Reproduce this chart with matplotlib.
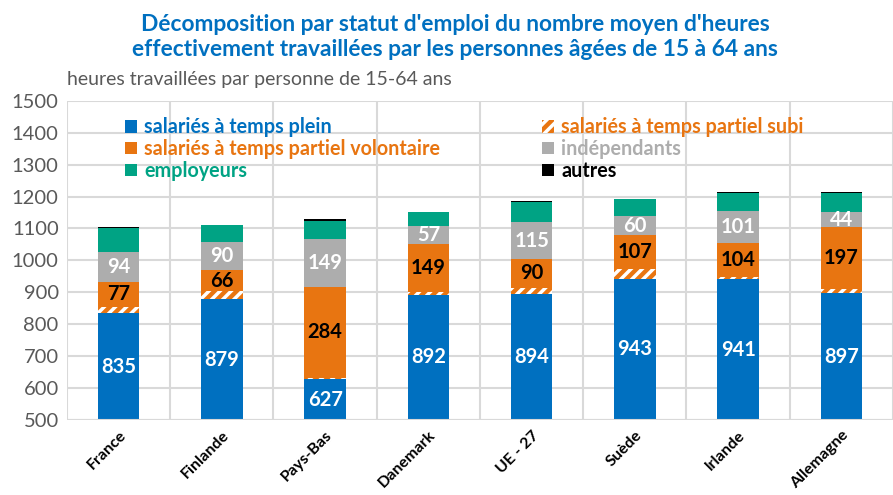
import matplotlib
matplotlib.use("Agg")
import matplotlib.pyplot as plt
import numpy as np

plt.rcParams['font.family'] = ['Lato', 'DejaVu Sans']
plt.rcParams['hatch.linewidth'] = 2.5

categories = ["France", "Finlande", "Pays-Bas", "Danemark", "UE - 27", "Suède", "Irlande", "Allemagne"]
plein = [835, 879, 627, 892, 894, 943, 941, 897]
subi = [20, 24, 6, 10, 20, 29, 8, 12]
volontaire = [77, 66, 284, 149, 90, 107, 104, 197]
independants = [94, 90, 149, 57, 115, 60, 101, 44]
employeurs = [76, 52, 58, 42, 65, 52, 58, 62]
autres = [3, 1, 7, 1, 3, 1, 2, 1]

c_blue = "#0070C0"
c_orange = "#E87511"
c_gray = "#ADADAD"
c_green = "#00A384"
c_black = "#000000"

fig = plt.figure(figsize=(8.93, 4.95), dpi=100)
ax = fig.add_axes([0.075, 0.1515, 0.925, 0.645])

x = np.arange(len(categories))
w = 0.4
bottom = np.zeros(len(categories))

b1 = ax.bar(x, plein, w, bottom=bottom, color=c_blue, label="salariés à temps plein", zorder=3)
bottom += plein
b2 = ax.bar(x, subi, w, bottom=bottom, facecolor=c_orange, edgecolor="white", hatch="///",
            linewidth=0, label="salariés à temps partiel subi", zorder=3)
bottom += subi
b3 = ax.bar(x, volontaire, w, bottom=bottom, color=c_orange, label="salariés à temps partiel volontaire", zorder=3)
bottom += volontaire
b4 = ax.bar(x, independants, w, bottom=bottom, color=c_gray, label="indépendants", zorder=3)
bottom += independants
b5 = ax.bar(x, employeurs, w, bottom=bottom, color=c_green, label="employeurs", zorder=3)
bottom += employeurs
b6 = ax.bar(x, autres, w, bottom=bottom, color=c_black, label="autres", zorder=3)

ax.bar_label(b1, labels=[str(v) for v in plein], label_type="center", color="white",
             fontsize=14.5, fontweight="bold", zorder=4)
ax.bar_label(b3, labels=[str(v) for v in volontaire], label_type="center", color="black",
             fontsize=14.5, fontweight="bold", zorder=4)
ax.bar_label(b4, labels=[str(v) for v in independants], label_type="center", color="white",
             fontsize=14.5, fontweight="bold", zorder=4)

ax.set_ylim(500, 1500)
ax.set_yticks(np.arange(500, 1501, 100))
ax.set_xlim(-0.5, len(categories) - 0.5)
ax.set_xticks(x)
ax.set_xticklabels(categories, rotation=45, ha="right", rotation_mode="anchor",
                   fontsize=11.5, fontweight="bold")
ax.set_xticks(np.arange(-0.5, len(categories), 1.0), minor=True)
ax.tick_params(axis="x", which="both", length=0, pad=6)
ax.tick_params(axis="y", length=0, labelsize=14.5, labelcolor="#595959", pad=6)
ax.grid(axis="y", which="major", color="#D9D9D9", linewidth=1.5, zorder=0)
ax.grid(axis="x", which="minor", color="#D9D9D9", linewidth=1.5, zorder=0)
for s in ax.spines.values():
    s.set_visible(False)
ax.axhline(500, color="#D9D9D9", linewidth=1.5, zorder=5)

handles = [b1, b3, b5, b2, b4, b6]
labels = [h.get_label() for h in handles]
leg = ax.legend(handles, labels, ncol=2, loc="upper left", bbox_to_anchor=(0.049, 1.004),
                frameon=False, handlelength=0.6, handleheight=0.6, handletextpad=0.35,
                columnspacing=5.2, labelspacing=0.1,
                prop={"size": 14.2, "weight": "bold"})
for t, c in zip(leg.get_texts(), [c_blue, c_orange, c_green, c_orange, c_gray, c_black]):
    t.set_color(c)

fig.text(0.075, 0.84, "heures travaillées par personne de 15-64 ans", fontsize=14,
         color="#595959", ha="left", va="center")
fig.text(0.51, 0.925, "Décomposition par statut d'emploi du nombre moyen d'heures\n"
         "effectivement travaillées par les personnes âgées de 15 à 64 ans",
         fontsize=16.4, fontweight="bold", color=c_blue, ha="center", va="center",
         linespacing=1.2)

fig.savefig("out.png", dpi=100)
